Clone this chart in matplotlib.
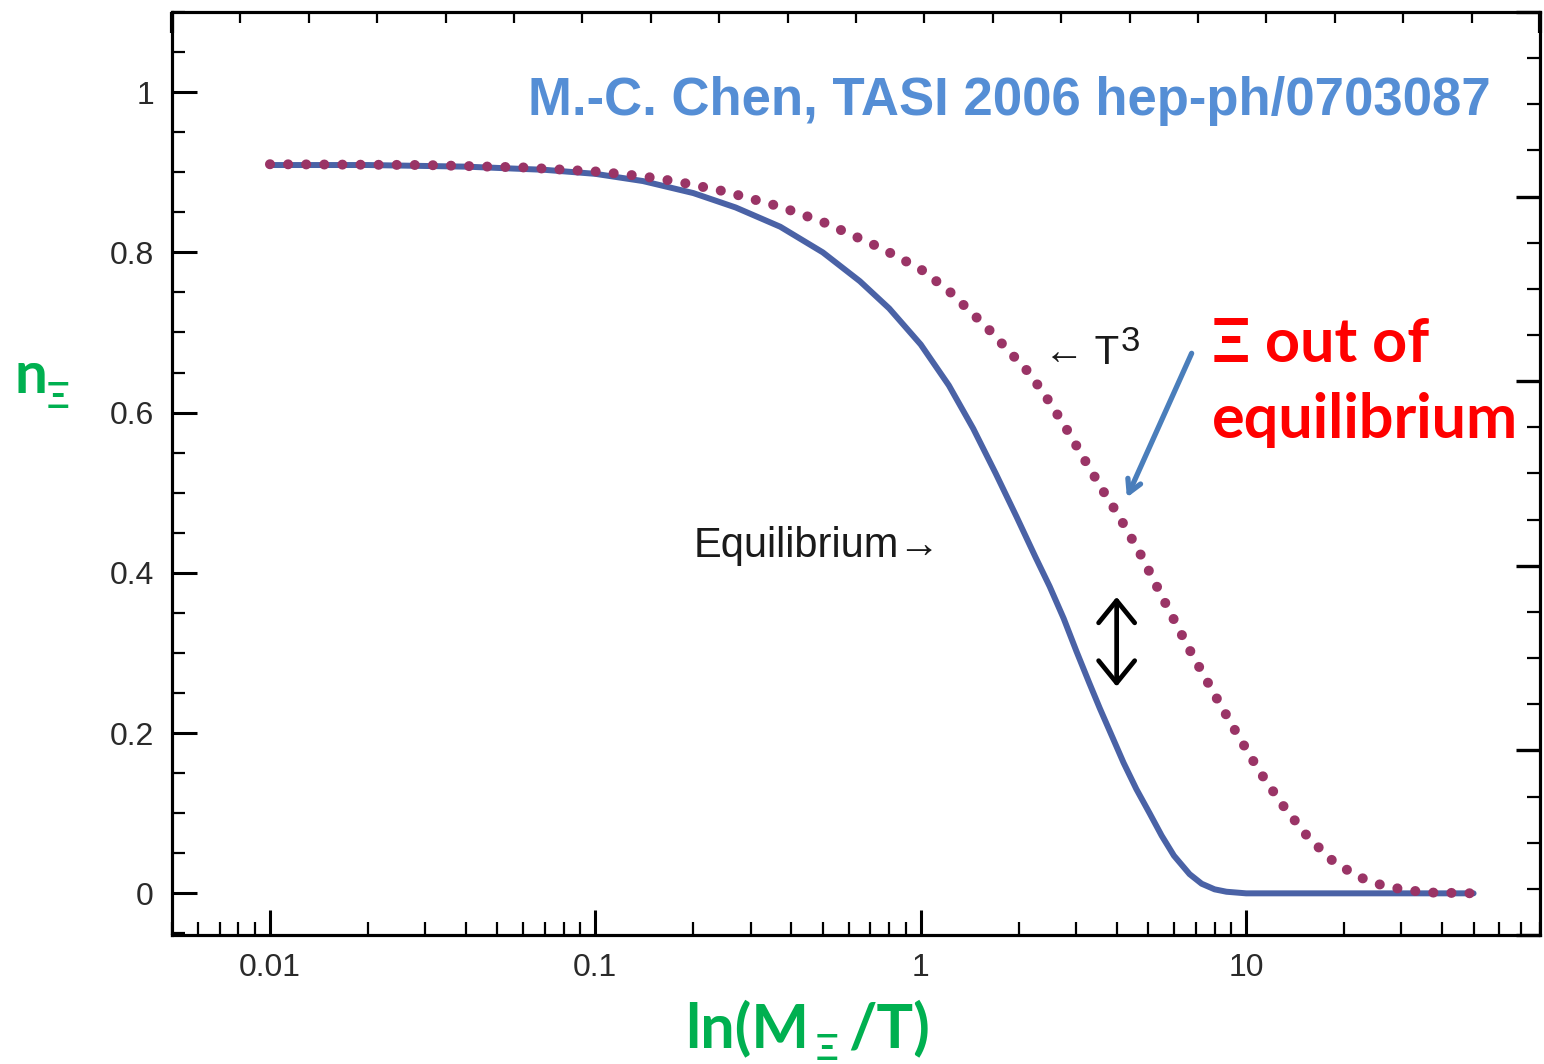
import matplotlib.pyplot as plt
import numpy as np
from matplotlib.ticker import LogLocator, MultipleLocator, NullFormatter

# equilibrium abundance (solid blue)
eq_x = [0.01, 0.02, 0.04, 0.07, 0.1, 0.14, 0.2, 0.27, 0.37, 0.5, 0.65, 0.8, 1.0,
        1.22, 1.45, 1.7, 1.97, 2.25, 2.49, 2.75, 3.01, 3.3, 3.55, 3.9, 4.2, 4.6,
        5.05, 5.5, 6.0, 6.7, 7.3, 8.0, 8.7, 10, 12, 20, 50]
eq_n = [0.909, 0.909, 0.907, 0.903, 0.898, 0.889, 0.874, 0.856, 0.832, 0.800, 0.764,
        0.730, 0.685, 0.634, 0.580, 0.524, 0.470, 0.420, 0.383, 0.343, 0.302, 0.262,
        0.231, 0.193, 0.163, 0.130, 0.100, 0.072, 0.047, 0.024, 0.012, 0.005, 0.002,
        0.0, 0.0, 0.0, 0.0]

# out of equilibrium abundance (dotted)
out_x = [0.01, 0.03, 0.06, 0.1, 0.14, 0.18, 0.25, 0.37, 0.5, 0.75, 1.0, 1.22, 1.6,
         2.16, 2.49, 2.85, 3.2, 3.6, 4.09, 4.71, 5.6, 6.7, 8.0, 9.35, 11, 12.9, 15.5,
         18.4, 22, 26.2, 31, 37, 50]
out_n = [0.910, 0.909, 0.906, 0.901, 0.895, 0.888, 0.876, 0.857, 0.838, 0.806, 0.779,
         0.752, 0.706, 0.649, 0.613, 0.575, 0.540, 0.505, 0.469, 0.425, 0.365, 0.304,
         0.248, 0.200, 0.152, 0.111, 0.070, 0.041, 0.021, 0.010, 0.004, 0.001, 0.0]

x_major = [0.01, 0.1, 1, 10]
x_labels = ['0.01', '0.1', '1', '10']
y_major = [0, 0.2, 0.4, 0.6, 0.8, 1]
y_labels = ['0', '0.2', '0.4', '0.6', '0.8', '1']

W, H = 1544, 1064
fig = plt.figure(figsize=(W / 100, H / 100), dpi=100)
ax = fig.add_axes([172 / W, 1 - 935 / H, (1540 - 172) / W, (935 - 12) / H])

ax.plot(eq_x, eq_n, color='#4a62a6', lw=4.3, solid_capstyle='round', zorder=3)
ax.plot(out_x, out_n, color='#9a3466', lw=7.2, linestyle=(0, (0.01, 1.8)),
        dash_capstyle='round', zorder=4)

ax.set_xscale('log')
ax.set_xlim(0.005, 80)
ax.set_ylim(-0.052, 1.1)

ax.xaxis.set_minor_locator(LogLocator(base=10, subs=np.arange(2, 10)))
ax.xaxis.set_minor_formatter(NullFormatter())
ax.set_xticks(x_major)
ax.set_xticklabels(x_labels)
ax.set_yticks(y_major)
ax.set_yticklabels(y_labels)
ax.yaxis.set_minor_locator(MultipleLocator(0.05))

for t in ax.get_xticklabels() + ax.get_yticklabels():
    t.set_fontfamily('Liberation Sans')
    t.set_fontsize(23)
    t.set_color('#2a2a2a')

ax.tick_params(which='both', direction='in', top=False, right=False, colors='black')
ax.tick_params(which='major', length=18, width=2.2)
ax.tick_params(which='minor', length=9.5, width=1.6)
ax.tick_params(axis='x', which='major', pad=13, labelcolor='#2a2a2a')
ax.tick_params(axis='y', which='major', pad=13, labelcolor='#2a2a2a')
for s in ax.spines.values():
    s.set_linewidth(2.2)

# top and right frames carry their own unlabelled ticks
ax_top = ax.twiny()
ax_top.set_xlim(0, 20)
ax_top.xaxis.set_major_locator(MultipleLocator(20))
ax_top.xaxis.set_minor_locator(MultipleLocator(1))
ax_top.tick_params(axis='x', which='both', direction='in', labeltop=False, top=True)
ax_top.tick_params(axis='x', which='major', length=15, width=3)
ax_top.tick_params(axis='x', which='minor', length=8, width=1.6)

ax_right = ax.twinx()
ax_right.set_ylim(0, 20)
ax_right.yaxis.set_major_locator(MultipleLocator(4))
ax_right.yaxis.set_minor_locator(MultipleLocator(1))
ax_right.tick_params(axis='y', which='both', direction='in', labelright=False, right=True)
ax_right.tick_params(axis='y', which='major', length=17, width=2.4)
ax_right.tick_params(axis='y', which='minor', length=9.5, width=1.6)
for a in (ax_top, ax_right):
    for s in a.spines.values():
        s.set_linewidth(2.2)

# annotations inside the plot
ax.text(0.2, 0.434, 'Equilibrium\u2192', family='Liberation Sans', size=30,
        color='#1a1a1a', va='center', ha='left', zorder=5)
t_arrow = ax.text(2.40, 0.675, '\u2190 T', family='Liberation Sans', size=29,
                  color='#1a1a1a', va='center', ha='left', zorder=5)
ax.annotate('3', xy=(1, 1), xycoords=t_arrow, xytext=(1, 6), textcoords='offset points',
            family='Liberation Sans', size=25, color='#1a1a1a', ha='left', va='top')

ax.annotate('', xy=(4.0, 0.258), xytext=(4.0, 0.370),
            arrowprops=dict(arrowstyle='<->,head_length=1.6,head_width=1.3',
                            color='black', lw=3.4, shrinkA=0, shrinkB=0))
ax.annotate('', xy=(4.3, 0.494), xytext=(6.8, 0.674),
            arrowprops=dict(arrowstyle='->,head_length=0.9,head_width=0.5',
                            color='#4a7ebb', lw=3.8, shrinkA=0, shrinkB=0))

# reference line at the top
fig.text(1009 / W, 1 - 115 / H, 'M.-C. Chen, TASI 2006 hep-ph/0703087',
         family='Liberation Sans', weight='bold', size=38, color='#558ed5',
         ha='center', va='baseline')

red = dict(family=['Lato', 'DejaVu Sans'], weight='bold', size=44, color='#ff0000',
           ha='left', va='baseline')
fig.text(1212 / W, 1 - 362 / H, '\u039e out of', **red)
fig.text(1212 / W, 1 - 438 / H, 'equilibrium', **red)

# axis labels in green
green = '#00b050'
gfont = ['Lato', 'DejaVu Sans']
fig.text(14 / W, 1 - 393 / H, 'n', family=gfont, weight='bold', size=42,
         color=green, ha='left', va='baseline')
fig.text(47 / W, 1 - 408 / H, '\u039e', family=gfont, weight='bold', size=26,
         color=green, ha='left', va='baseline')

fig.text(685 / W, 1 - 1047 / H, 'ln(M', family=gfont, weight='bold', size=44,
         color=green, ha='left', va='baseline')
fig.text(816 / W, 1 - 1060 / H, '\u039e', family=gfont, weight='bold', size=26,
         color=green, ha='left', va='baseline')
fig.text(848 / W, 1 - 1047 / H, '/T)', family=gfont, weight='bold', size=44,
         color=green, ha='left', va='baseline')

fig.savefig('out.png', dpi=100, facecolor='white')
